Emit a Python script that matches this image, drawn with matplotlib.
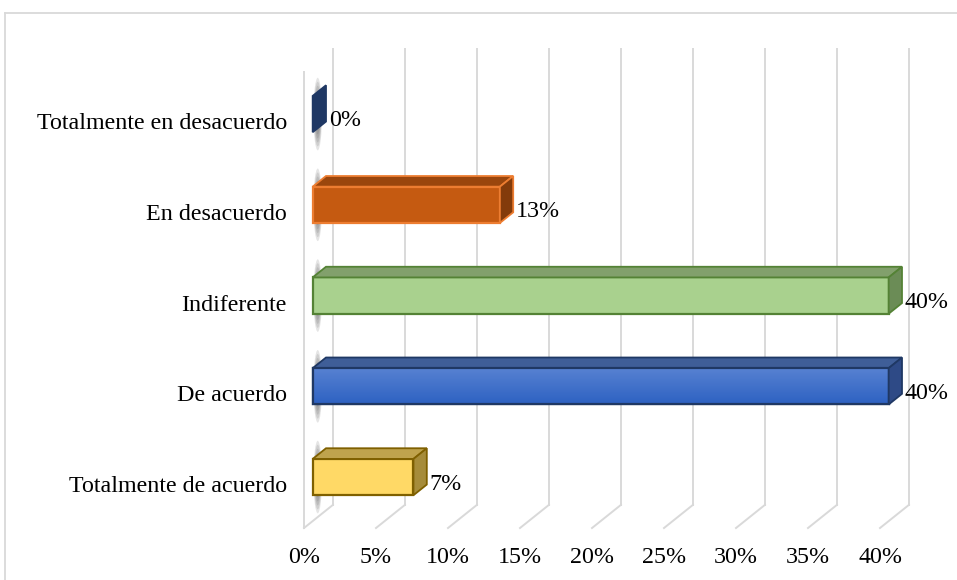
import numpy as np
import matplotlib
matplotlib.use("Agg")
import matplotlib.pyplot as plt
from matplotlib.patches import Polygon, Ellipse
from matplotlib.lines import Line2D

# data (bottom to top)
categories = ["Totalmente de acuerdo", "De acuerdo", "Indiferente",
              "En desacuerdo", "Totalmente en desacuerdo"]
values = [7, 40, 40, 13, 0]
value_labels = ["7%", "40%", "40%", "13%", "0%"]
ticks = [0, 5, 10, 15, 20, 25, 30, 35, 40]
tick_labels = ["0%", "5%", "10%", "15%", "20%", "25%", "30%", "35%", "40%"]

# colours: front, top, side, edge
front_c = ["#FFD966", "#3A6CCB", "#A9D18E", "#C55A11", "#1F3864"]
top_c = ["#BFA34D", "#3F5E98", "#82A06C", "#9A460D", "#1F3864"]
side_c = ["#A68C3A", "#2E4A86", "#6B8C56", "#833B0B", "#1F3864"]
edge_c = ["#7F6000", "#1F3864", "#548235", "#ED7D31", "#1F3864"]

FONT = "Liberation Serif"
FS = 17.3

# pseudo-3D projection (data units)
DDX, DDY = 2.01, 0.255     # full depth of the plot box
D0, D1 = 0.30, 0.76        # bar front / back depth
H = 0.2                    # half bar height
FLOOR, TOP = -0.485, 4.54

fig = plt.figure(figsize=(9.57, 5.80), dpi=100)
ax = fig.add_axes([0, 0, 1, 1])
ax.set_xlim(-304 / 14.4, (957 - 304) / 14.4)
ax.set_ylim((484 - 580) / 90.75, 484 / 90.75)
ax.axis("off")

# chart area border
fig.add_artist(Line2D([5 / 957, 5 / 957], [0, 1 - 13 / 580], transform=fig.transFigure,
                      color="#D9D9D9", lw=1.3))
fig.add_artist(Line2D([5 / 957, 1], [1 - 13 / 580, 1 - 13 / 580], transform=fig.transFigure,
                      color="#D9D9D9", lw=1.3))

grid_c = "#D9D9D9"
for t in ticks:
    ax.plot([t + DDX, t + DDX], [FLOOR + DDY, TOP + DDY], color=grid_c, lw=1.4, zorder=1)
    ax.plot([t, t + DDX], [FLOOR, FLOOR + DDY], color=grid_c, lw=1.4, zorder=1)
ax.plot([0, 0], [FLOOR, TOP], color=grid_c, lw=1.4, zorder=1)

for t, lab in zip(ticks, tick_labels):
    ax.text(t, -0.81, lab, ha="center", va="center", family=FONT, fontsize=FS)

for i, (cat, v) in enumerate(zip(categories, values)):
    ax.text(-1.18, i - 0.03, cat, ha="right", va="center", family=FONT, fontsize=FS)

    x0f, x1f = D0 * DDX, v + D0 * DDX
    x0b, x1b = D1 * DDX, v + D1 * DDX
    yb_f, yt_f = i - H + D0 * DDY, i + H + D0 * DDY
    yb_b, yt_b = i - H + D1 * DDY, i + H + D1 * DDY

    # blurred shadow near the base
    for k in range(7):
        s = 1 - k * 0.11
        ax.add_patch(Ellipse((x0f + 0.35, i + D0 * DDY), 0.6 * s, 0.8 * s,
                             color="#303030", alpha=0.12, lw=0, zorder=2))

    if v > 0:
        front = Polygon([(x0f, yb_f), (x1f, yb_f), (x1f, yt_f), (x0f, yt_f)],
                        closed=True, fc=front_c[i], ec=edge_c[i], lw=1.6, zorder=3)
        ax.add_patch(front)
        if i == 1:
            grad = np.linspace(0, 1, 50).reshape(-1, 1)
            cmap = matplotlib.colors.LinearSegmentedColormap.from_list(
                "b", ["#2E62C2", "#5882D2"])
            im = ax.imshow(grad, cmap=cmap, extent=[x0f, x1f, yb_f, yt_f],
                           origin="lower", aspect="auto", zorder=3.1)
            im.set_clip_path(front)
            ax.add_patch(Polygon([(x0f, yb_f), (x1f, yb_f), (x1f, yt_f), (x0f, yt_f)],
                                 closed=True, fill=False, ec=edge_c[i], lw=1.6, zorder=3.2))
        ax.add_patch(Polygon([(x0f, yt_f), (x1f, yt_f), (x1b, yt_b), (x0b, yt_b)],
                             closed=True, fc=top_c[i], ec=edge_c[i], lw=1.3, zorder=3))
    ax.add_patch(Polygon([(x1f, yb_f), (x1f, yt_f), (x1b, yt_b), (x1b, yb_b)],
                         closed=True, fc=side_c[i], ec=edge_c[i], lw=1.3, zorder=3.3))

    ax.text(x1b + 0.2, i + 0.0, value_labels[i], ha="left", va="center",
            family=FONT, fontsize=FS)

fig.savefig("out.png", dpi=100)
